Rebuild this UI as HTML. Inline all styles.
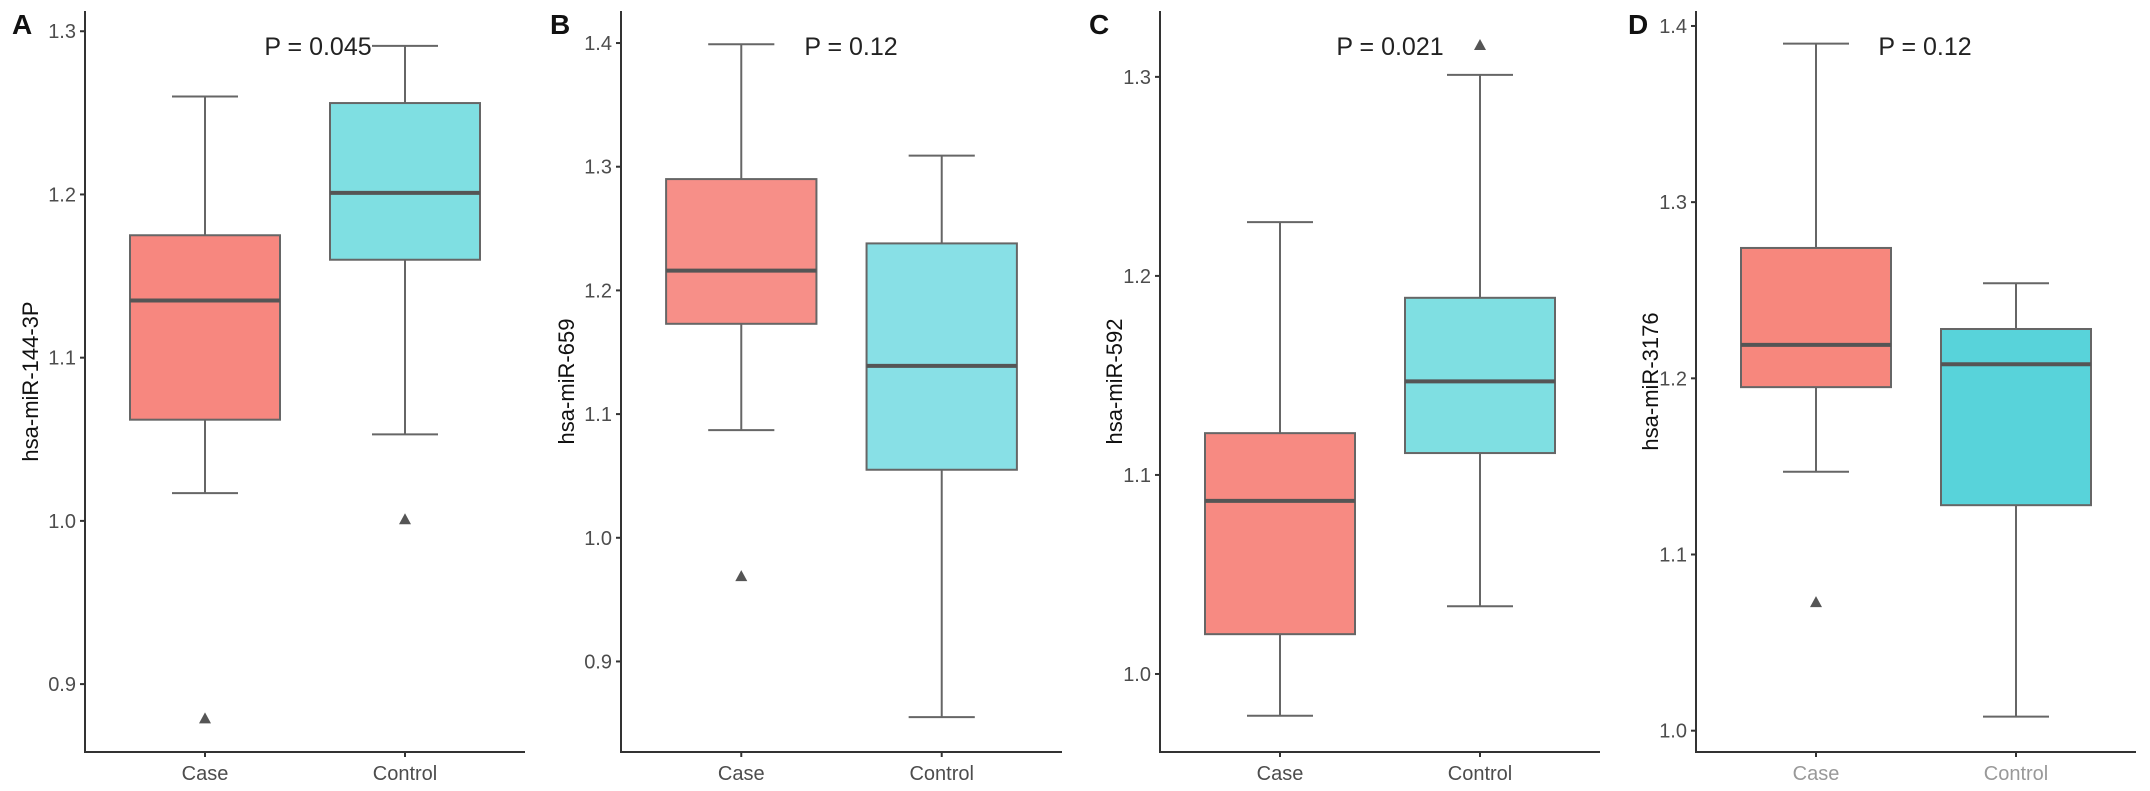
<!DOCTYPE html>
<html><head><meta charset="utf-8"><style>
html,body{margin:0;padding:0;background:#fff;}
svg{display:block;font-family:"Liberation Sans",sans-serif;}
</style></head><body>
<svg id="fig" width="2150" height="791" viewBox="0 0 2150 791"></svg>
<script>
const categories = ["Case","Control"];
const panelLetters = ["A","B","C","D"];
const yTitles = ["hsa-miR-144-3P","hsa-miR-659","hsa-miR-592","hsa-miR-3176"];
const pLabels = ["P = 0.045","P = 0.12","P = 0.021","P = 0.12"];
// [whiskerLow, q1, median, q3, whiskerHigh] per category
const statsA = [[1.017,1.062,1.135,1.175,1.260],[1.053,1.160,1.201,1.256,1.291]];
const statsB = [[1.087,1.173,1.216,1.290,1.399],[0.855,1.055,1.139,1.238,1.309]];
const statsC = [[0.979,1.020,1.087,1.121,1.227],[1.034,1.111,1.147,1.189,1.301]];
const statsD = [[1.147,1.195,1.219,1.274,1.390],[1.008,1.128,1.208,1.228,1.254]];
const outliersA = [[0.879],[1.001]];
const outliersB = [[0.969],[]];
const outliersC = [[],[1.316]];
const outliersD = [[1.073],[]];
const domainA = [0.8584,1.3124], domainB = [0.8268,1.4259], domainC = [0.9608,1.3331], domainD = [0.9879,1.4085];
const ticksA = [0.9,1.0,1.1,1.2,1.3];
const ticksB = [0.9,1.0,1.1,1.2,1.3,1.4];
const ticksC = [1.0,1.1,1.2,1.3];
const ticksD = [1.0,1.1,1.2,1.3,1.4];

const layout = [
 {x0:85,x1:525,letterX:12,titleX:30,pX:318,narrow:false,ctrl:"#7fdfe2",case:"#f7877f",xlabCol:"#4d4d4d"},
 {x0:621,x1:1062,letterX:550,titleX:566,pX:851,narrow:false,ctrl:"#88e0e6",case:"#f78f88",xlabCol:"#4d4d4d"},
 {x0:1160,x1:1600,letterX:1089,titleX:1114,pX:1390,narrow:true,ctrl:"#7fdfe2",case:"#f78a82",xlabCol:"#4d4d4d"},
 {x0:1696,x1:2136,letterX:1628,titleX:1650,pX:1925,narrow:true,ctrl:"#58d3da",case:"#f7877d",xlabCol:"#999"}
];
const allStats=[statsA,statsB,statsC,statsD], allOut=[outliersA,outliersB,outliersC,outliersD];
const allDom=[domainA,domainB,domainC,domainD], allTicks=[ticksA,ticksB,ticksC,ticksD];
const NS="http://www.w3.org/2000/svg", svg=document.getElementById('fig');
function mk(tag,attrs,parent){const e=document.createElementNS(NS,tag);for(const k in attrs)e.setAttribute(k,attrs[k]);(parent||svg).appendChild(e);return e;}
const YT=11, YB=752;
for(let p=0;p<4;p++){
  const L=layout[p], dom=allDom[p];
  const g=mk('g',{});
  
  
  const fam = L.narrow ? '"Liberation Sans Narrow","Liberation Sans",sans-serif' : '"Liberation Sans",sans-serif';
  const y=v=>YT+(dom[1]-v)/(dom[1]-dom[0])*(YB-YT);
  const unit=(L.x1-L.x0)/2.2;
  const x=i=>L.x0+(0.6+i)*unit;
  const ya=mk('line',{x1:L.x0,y1:YT,x2:L.x0,y2:YB+1,stroke:'#333','stroke-width':2},g);
  
  
  const xa=mk('line',{x1:L.x0-1,y1:YB,x2:L.x1,y2:YB,stroke:'#333','stroke-width':2},g);
  
  
  allTicks[p].forEach(t=>{
    mk('line',{x1:L.x0-5,y1:y(t),x2:L.x0,y2:y(t),stroke:'#333','stroke-width':2},g);
    const tl=mk('text',{x:L.x0-9,y:y(t)+7,'text-anchor':'end','font-size':20,fill:'#4d4d4d','font-family':fam},g);
    tl.textContent=t.toFixed(1);
    
    
  });
  categories.forEach((c,i)=>{
    mk('line',{x1:x(i),y1:YB,x2:x(i),y2:YB+5,stroke:'#333','stroke-width':2},g);
    const xl=mk('text',{x:x(i),y:780,'text-anchor':'middle','font-size':20,fill:L.xlabCol,'font-family':fam},g);
    xl.textContent=c;
    
    
    const s=allStats[p][i], bw=0.75*unit, cap=bw*0.22;
    const wh=mk('g',{stroke:'#666','stroke-width':2},g);
    
    
    mk('line',{x1:x(i),y1:y(s[4]),x2:x(i),y2:y(s[3])},wh);
    mk('line',{x1:x(i),y1:y(s[1]),x2:x(i),y2:y(s[0])},wh);
    mk('line',{x1:x(i)-cap,y1:y(s[4]),x2:x(i)+cap,y2:y(s[4])},wh);
    mk('line',{x1:x(i)-cap,y1:y(s[0]),x2:x(i)+cap,y2:y(s[0])},wh);
    const bx=mk('rect',{x:x(i)-bw/2,y:y(s[3]),width:bw,height:y(s[1])-y(s[3]),fill:i?L.ctrl:L.case,stroke:'#666','stroke-width':2},g);
    
    
    const md=mk('line',{x1:x(i)-bw/2,y1:y(s[2]),x2:x(i)+bw/2,y2:y(s[2]),stroke:'#555','stroke-width':4},g);
    
    
    allOut[p][i].forEach(o=>{
      const yy=y(o);
      const tr=mk('polygon',{points:`${x(i)-6},${yy+5} ${x(i)+6},${yy+5} ${x(i)},${yy-6}`,fill:'#555'},g);
      
      
    });
  });
  const lt=mk('text',{x:L.letterX,y:34,'font-size':28,'font-weight':'bold',fill:'#111'},g);
  lt.textContent=panelLetters[p];
  
  
  const ttl=mk('text',{x:0,y:0,'text-anchor':'middle','font-size':22,fill:'#111',transform:`translate(${L.titleX+8},${(YT+YB)/2}) rotate(-90)`},g);
  ttl.textContent=yTitles[p];
  
  
  const pt=mk('text',{x:L.pX,y:55,'text-anchor':'middle','font-size':25,fill:'#222','font-family':fam},g);
  pt.textContent=pLabels[p];
  
  
}
</script>
</body></html>
